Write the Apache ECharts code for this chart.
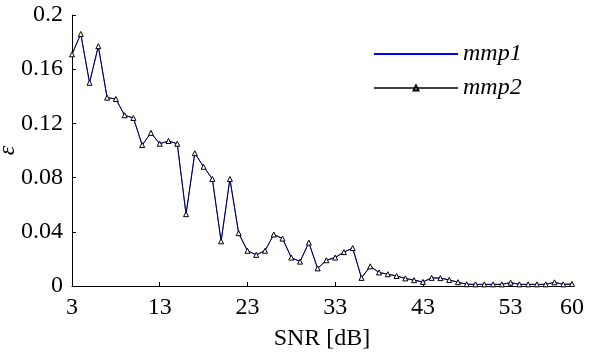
<!DOCTYPE html>
<html>
<head>
<meta charset="utf-8">
<script src="https://cdn.jsdelivr.net/npm/echarts@6/dist/echarts.min.js"></script>
<style>
html,body{margin:0;padding:0;background:#fff;}
#chart{width:589px;height:364px;}
</style>
</head>
<body>
<div id="chart"></div>
<script>
var snr = [3,4,5,6,7,8,9,10,11,12,13,14,15,16,17,18,19,20,21,22,23,24,25,26,27,28,29,30,
  31,32,33,34,35,36,37,38,39,40,41,42,43,44,45,46,47,48,49,50,51,52,53,54,55,56,57,58,59,60];
var mmp1 = [0.171,0.186,0.150,0.177,0.139,0.138,0.126,0.124,0.104,0.113,0.105,0.107,0.105,0.053,0.098,0.088,0.079,0.033,0.079,0.039,
  0.026,0.023,0.026,0.038,0.035,0.021,0.018,0.032,0.013,0.019,0.021,0.025,0.028,0.006,0.0145,0.010,0.0087,0.0074,0.0056,0.0043,
  0.003,0.006,0.0058,0.0045,0.0028,0.0013,0.0012,0.0012,0.0012,0.0012,0.0025,0.0012,0.0012,0.0012,0.0012,0.0027,0.0012,0.0015];
var mmp2 = [0.171,0.186,0.150,0.177,0.139,0.138,0.126,0.124,0.104,0.113,0.105,0.107,0.105,0.053,0.098,0.088,0.079,0.033,0.079,0.039,
  0.026,0.023,0.026,0.038,0.035,0.021,0.018,0.032,0.013,0.019,0.021,0.025,0.028,0.006,0.0145,0.010,0.0087,0.0074,0.0056,0.0043,
  0.003,0.006,0.0058,0.0045,0.0028,0.0013,0.0012,0.0012,0.0012,0.0012,0.0025,0.0012,0.0012,0.0012,0.0012,0.0027,0.0012,0.0015];
var seriesNames = ['mmp1','mmp2'];
var yTicks = [0, 0.04, 0.08, 0.12, 0.16, 0.2];

var FONT = 'Liberation Serif';
var FS = 24;
var chart = echarts.init(document.getElementById('chart'), null, {renderer:'canvas'});
var cats = snr.map(String);
var lastIdx = snr.length - 1;
function showIdx(i){ return i % 10 === 0 || i === lastIdx; }
chart.setOption({
  backgroundColor:'#fff',
  animation:false,
  textStyle:{fontFamily:FONT},
  grid:{left:72, right:17, top:15, bottom:78, containLabel:false, outerBoundsMode:'none'},
  legend:{
    orient:'vertical', left:368, top:37,
    itemWidth:84, itemHeight:6, itemGap:10,
    textStyle:{fontFamily:FONT, fontStyle:'italic', fontSize:FS, color:'#000'},
    data:[
      {name:seriesNames[0], itemStyle:{opacity:0}},
      {name:seriesNames[1]}
    ]
  },
  xAxis:{
    type:'category', data:cats, boundaryGap:false,
    name:'SNR [dB]', nameLocation:'middle', nameGap:41, nameMoveOverlap:false,
    nameTextStyle:{fontFamily:FONT, fontSize:FS, color:'#000'},
    axisLine:{lineStyle:{color:'#000', width:1}},
    axisTick:{inside:true, length:4, interval:function(i){return showIdx(i);}, lineStyle:{color:'#000'}},
    axisLabel:{interval:function(i){return showIdx(i);}, margin:10, fontFamily:FONT, fontSize:FS, color:'#000'},
    splitLine:{show:false}
  },
  yAxis:{
    type:'value', min:yTicks[0], max:yTicks[yTicks.length-1], interval:0.04,
    name:'\u03b5', nameLocation:'middle', nameGap:52, nameRotate:90, nameMoveOverlap:false,
    nameTextStyle:{fontFamily:FONT, fontStyle:'italic', fontSize:FS, color:'#000'},
    axisLine:{show:true, lineStyle:{color:'#000', width:1}},
    axisTick:{show:true, inside:true, length:4, lineStyle:{color:'#000'}},
    axisLabel:{margin:9, fontFamily:FONT, fontSize:FS, color:'#000'},
    splitLine:{show:false}
  },
  series:[
    {name:seriesNames[0], type:'line', data:mmp1, symbol:'none', showSymbol:false,
     lineStyle:{color:'#0000ff', width:1}, itemStyle:{color:'#0000ff'}, z:2},
    {name:seriesNames[1], type:'line', data:mmp2, symbol:'triangle', symbolSize:5, showSymbol:true,
     lineStyle:{color:'#000', width:1, opacity:0.75},
     itemStyle:{color:'#fff', borderColor:'#000', borderWidth:1}, z:3}
  ]
});
</script>
</body>
</html>
